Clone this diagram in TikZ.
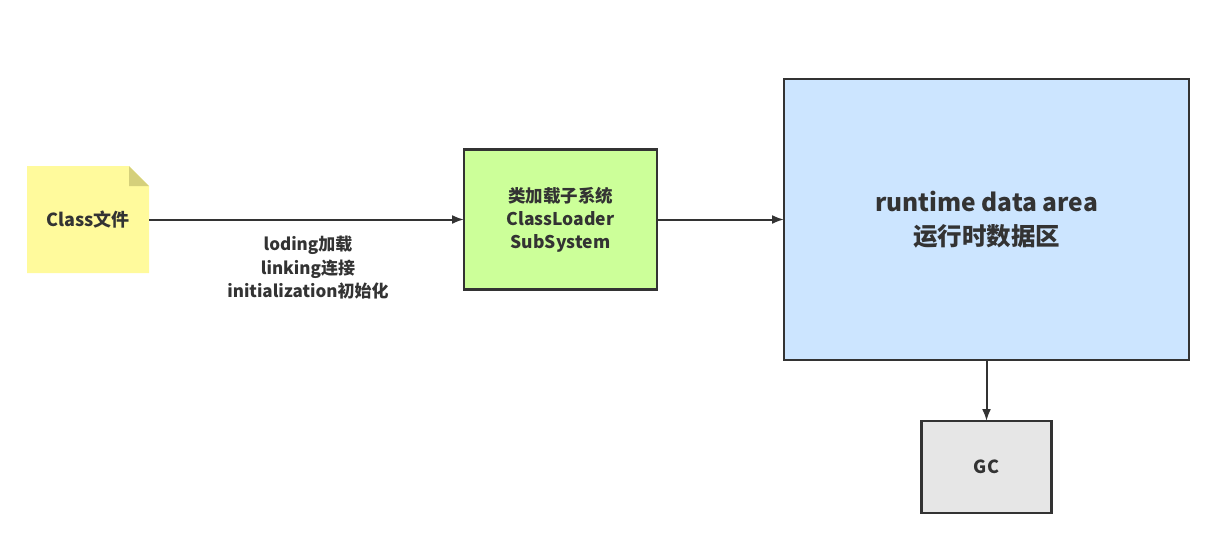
\documentclass[tikz,border=0pt]{standalone}
\usepackage{fontspec}
\setmainfont{Noto Sans CJK SC}
\usetikzlibrary{arrows.meta,positioning,backgrounds}
\definecolor{NoteYellow}{HTML}{FFFA9C}
\definecolor{NoteFold}{HTML}{D5D07B}
\definecolor{SoftGreen}{HTML}{CCFF99}
\definecolor{SoftBlue}{HTML}{CCE5FF}
\definecolor{SoftGray}{HTML}{E6E6E6}
\definecolor{LineGray}{HTML}{333333}

\begin{document}
\begin{tikzpicture}[x=1pt,y=1pt,>={Latex[length=12pt,width=9pt]},font=\bfseries,text=LineGray]
\tikzstyle{blk}=[draw=LineGray,line width=2.4pt,align=center,inner sep=0pt,outer sep=0pt]
\tikzstyle{link}=[->,draw=LineGray,line width=2pt]
\useasboundingbox (0,0) rectangle (1231,-544);
\node[minimum width=122pt,minimum height=107pt,inner sep=0pt,outer sep=0pt,font=\bfseries\fontsize{18}{22}\selectfont] (cls) at (88,-219.5) {Class文件};
\node[blk,fill=SoftGreen,minimum width=193pt,minimum height=140pt,right=315pt of cls,font=\bfseries\fontsize{17.5}{23}\selectfont] (loader) {类加载子系统\\ClassLoader\\SubSystem};
\node[blk,fill=SoftBlue,minimum width=405pt,minimum height=281pt,right=127pt of loader,font=\bfseries\fontsize{24.5}{34}\selectfont] (rda) {runtime data area\\运行时数据区};
\node[blk,fill=SoftGray,minimum width=130pt,minimum height=92pt,below=61pt of rda,font=\bfseries\fontsize{18}{22}\selectfont] (gc) {GC};
\node[align=center,font=\bfseries\fontsize{17}{23.5}\selectfont] (steps) at (308,-268) {loding加载\\linking连接\\initialization初始化};
% note shape with folded corner
\begin{scope}[on background layer]
\fill[NoteYellow] (cls.south west) -- (cls.north west) -- ([xshift=-20pt]cls.north east) -- ([yshift=-20pt]cls.north east) -- (cls.south east) -- cycle;
\fill[NoteFold] ([xshift=-20pt]cls.north east) -- ([yshift=-20pt]cls.north east) -- ([xshift=-20pt,yshift=-20pt]cls.north east) -- cycle;
\end{scope}
\draw[link] (cls)--(loader);
\draw[link] (loader)--(rda);
\draw[link] (rda)--(gc);
\end{tikzpicture}
\end{document}
